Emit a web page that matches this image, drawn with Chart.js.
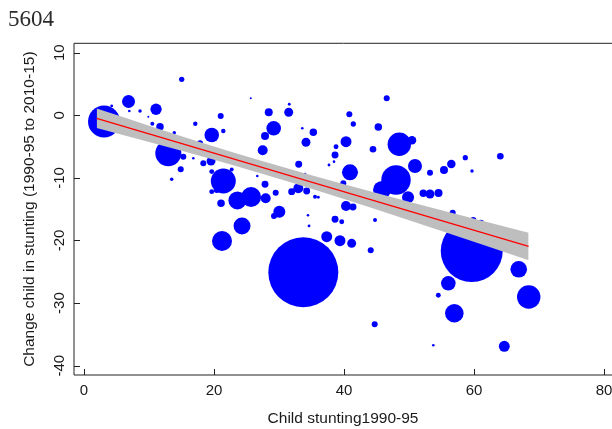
<!DOCTYPE html>
<html><head><meta charset="utf-8">
<script src="https://cdn.jsdelivr.net/npm/chart.js@4/dist/chart.umd.min.js"></script>
<style>html,body{margin:0;padding:0;background:#fff}#wrap{width:612px;height:429px}</style>
</head><body><div id="wrap"><canvas id="c" width="612" height="429"></canvas></div>
<script>
// Child stunting 1990-95 (x), change 1990-95 to 2010-15 (y), population weight (bubble size)
const stunting1990 = [3.08,6.85,11.08,8.62,6.97,4.26,9.89,15.03,21.03,25.65,10.51,11.69,17.12,13.89,19.65,21.43,17.85,12.97,15.28,16.82,19.54,18.35,14.88,13.49,21.43,23.6,25.7,20.42,21.08,31.58,28.42,31.49,29.18,33.58,35.28,27.85,27.49,34.15,40.82,41.43,46.57,45.28,40.31,38.77,38.62,44.46,48.51,50.46,50.92,48.0,45.85,49.85,53.23,55.38,56.51,58.66,59.69,64.05,52.2,53.23,54.54,56.72,59.89,59.65,61.03,66.88,56.05,54.51,68.42,56.97,53.74,64.66,44.72,33.74,24.31,21.23,27.95,29.49,30.05,29.23,34.46,34.62,38.62,39.65,40.31,41.38,44.77,37.34,39.38,41.18,44.11,33.03,37.69,38.46,40.92,39.89,34.0,32.97,31.95,34.26,35.54,36.05,27.85,26.66,19.65,22.72,19.65];
const stuntingChange = [-0.99,2.2,0.96,0.69,0.69,1.49,-0.22,5.75,-0.11,2.72,-1.34,-1.82,-1.34,-2.78,-3.15,-2.51,-4.47,-6.07,-6.61,-6.87,-7.32,-7.67,-8.63,-10.22,-10.5,-13.6,-13.05,-11.93,-14.06,1.76,0.48,0.48,-2.08,-2.08,-2.72,-3.31,-5.59,-4.31,0.16,-1.39,2.72,-1.87,-4.22,-5.02,-6.34,-5.43,-4.63,-3.99,-8.1,-10.34,-11.93,-13.1,-9.17,-8.74,-7.78,-6.77,-8.9,-6.55,-12.46,-12.57,-12.41,-15.56,-16.73,-21.68,-17.25,-24.6,-26.84,-28.75,-29.03,-31.63,-36.74,-36.9,-33.39,-25.08,-17.7,-20.08,-13.26,-12.36,-15.4,-16.09,-15.97,-17.68,-16.61,-17.0,-14.49,-14.65,-16.73,-19.39,-20.03,-20.45,-21.57,-7.83,-7.94,-7.41,-9.11,-10.86,-9.42,-11.66,-12.2,-12.09,-13.0,-13.1,-11.02,-9.7,-12.2,-8.66,-9.0];
const population = [256,42,32,3,1.7,2,1,7,9,1,4,14,5,3,53,5,9,169,9,1.7,20,9,9,3,156,81,100,9,14,2,16,20,53,1.7,14,16,25,20,9,7,9,14,30,6,12,11,137,18,49,216,81,36,9,16,18,7,3,11,14,20,16,9,9,961,12,69,53,6,137,86,1.7,30,9,1225,72,100,25,9,36,9,1.7,2,12,6,25,12,4,30,30,20,9,12,2,1.7,64,9,2,25,12,12,4,2,12,1.7,6,4,6];

// Linear fit and its confidence band
const fitX = [1.95,10,20,27,35,45,55,68.4];
const fitY = [-0.48,-2.96,-6.04,-8.20,-10.66,-13.74,-16.82,-20.95];
const bandUpper = [1.07,-1.67,-4.98,-7.19,-9.58,-12.42,-15.16,-18.76];
const bandLower = [-2.03,-4.25,-7.10,-9.21,-11.74,-15.06,-18.48,-23.14];

const xTickValues = [0,20,40,60,80];
const yTickValues = [-40,-30,-20,-10,0,10];

const bubbles = stunting1990.map((v,i)=>({x:v, y:stuntingChange[i], r:Math.sqrt(population[i])}));
const toPts = ys => fitX.map((v,i)=>({x:v, y:ys[i]}));

const framePlugin = {
  id:'frame',
  afterDraw(chart){
    const {ctx, chartArea:a, scales:{x,y}} = chart;
    ctx.save();
    ctx.strokeStyle='#222'; ctx.lineWidth=1;
    ctx.beginPath();
    ctx.moveTo(a.right+2, a.top); ctx.lineTo(a.left, a.top); ctx.lineTo(a.left, a.bottom); ctx.lineTo(a.right+2, a.bottom);
    x.ticks.forEach(t=>{const p=Math.round(x.getPixelForValue(t.value))+0.5; ctx.moveTo(p,a.bottom); ctx.lineTo(p,a.bottom-6);});
    y.ticks.forEach(t=>{const p=Math.round(y.getPixelForValue(t.value))+0.5; ctx.moveTo(a.left,p); ctx.lineTo(a.left+6,p);});
    ctx.stroke();
    ctx.restore();
  }
};

const tickFont = {family:"'Liberation Sans', Arial, sans-serif", size:15, lineHeight:1.2};
const titleFont = {family:"'Liberation Sans', Arial, sans-serif", size:15.5, lineHeight:1.2};

new Chart(document.getElementById('c'), {
  type:'bubble',
  data:{datasets:[
    {data:bubbles, backgroundColor:'#0000FF', borderWidth:0, order:3, hoverRadius:0},
    {type:'line', data:toPts(bandUpper), borderWidth:0, pointRadius:0, fill:'+1', backgroundColor:'#BEBEBE', order:2, cubicInterpolationMode:'monotone'},
    {type:'line', data:toPts(bandLower), borderWidth:0, pointRadius:0, fill:false, order:2, cubicInterpolationMode:'monotone'},
    {type:'line', data:toPts(fitY), borderColor:'#FF0000', borderWidth:1.3, pointRadius:0, fill:false, order:1, tension:0}
  ]},
  options:{
    responsive:false, animation:false, devicePixelRatio:1, events:[],
    layout:{autoPadding:false, padding:{left:8,right:0,top:0,bottom:0}},
    plugins:{
      legend:{display:false}, tooltip:{enabled:false},
      title:{display:true, text:'5604', align:'start', color:'#2b2b2b',
        font:{family:"'Liberation Serif', 'Times New Roman', serif", size:23, weight:'normal', lineHeight:1.2},
        padding:{top:6.2,bottom:9.5}}
    },
    scales:{
      x:{type:'linear', min:-1.54, max:81.23,
        afterBuildTicks:s=>{s.ticks = xTickValues.map(v=>({value:v}));},
        afterFit:s=>{s.height=54; s.paddingLeft=0; s.paddingRight=0;},
        grid:{display:false, drawTicks:false}, border:{display:false},
        ticks:{padding:7, color:'#1a1a1a', font:tickFont, maxRotation:0, autoSkip:false, callback:v=>String(v)},
        title:{display:true, text:'Child stunting1990-95', color:'#1a1a1a', font:titleFont, padding:{top:0,bottom:0.7}}
      },
      y:{type:'linear', min:-41.49, max:11.5,
        afterBuildTicks:s=>{s.ticks = yTickValues.map(v=>({value:v}));},
        afterFit:s=>{s.width=66; s.paddingTop=0; s.paddingBottom=0;},
        grid:{display:false, drawTicks:false}, border:{display:false},
        ticks:{padding:3.2, color:'#1a1a1a', font:tickFont, minRotation:90, maxRotation:90, crossAlign:'center', autoSkip:false, callback:v=>String(v)},
        title:{display:true, text:'Change child in stunting (1990-95 to 2010-15)', color:'#1a1a1a', font:titleFont, padding:{top:12.7,bottom:0}}
      }
    }
  },
  plugins:[framePlugin]
});
</script>
</body></html>
